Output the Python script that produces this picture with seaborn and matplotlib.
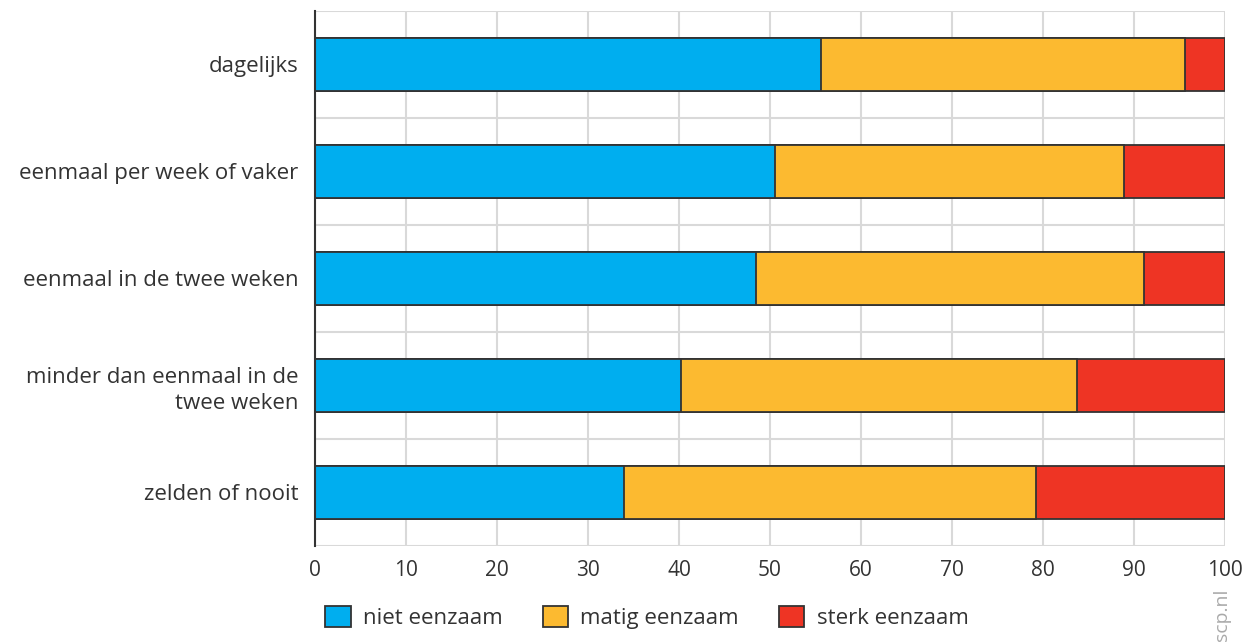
import pandas as pd
import matplotlib.pyplot as plt
import seaborn as sns
from matplotlib.patches import Patch

# categories and shares (%)
categories = ['dagelijks', 'eenmaal per week of vaker', 'eenmaal in de twee weken',
              'minder dan eenmaal in de\ntwee weken', 'zelden of nooit']
niet = [55.6, 50.5, 48.5, 40.2, 34.0]
matig = [40.0, 38.4, 42.6, 43.5, 45.2]
sterk = [4.4, 11.1, 8.9, 16.3, 20.8]
series_names = ['niet eenzaam', 'matig eenzaam', 'sterk eenzaam']
xticks = [0, 10, 20, 30, 40, 50, 60, 70, 80, 90, 100]

colors = ['#00AEEF', '#FCBA30', '#EE3424']

df = pd.DataFrame({'cat': categories, 'niet': niet, 'matig': matig, 'sterk': sterk})
df['c1'] = df['niet']
df['c2'] = df['niet'] + df['matig']
df['c3'] = df['c2'] + df['sterk']

sns.set_style('white')
plt.rcParams['font.family'] = ['Open Sans', 'DejaVu Sans']

fig = plt.figure(figsize=(12.5, 6.43), dpi=100)
ax = fig.add_axes([0.252, 0.151, 0.728, 0.832])

# stacked bars drawn as overlapping cumulative bars
for col, c in zip(['c3', 'c2', 'c1'], colors[::-1]):
    sns.barplot(data=df, x=col, y='cat', orient='h', color=c, width=0.5,
                edgecolor='#333333', linewidth=1.3, ax=ax, zorder=3, saturation=1)

ax.set_xlim(0, 100)
ax.set_ylim(len(categories) - 0.5, -0.5)
ax.set_xticks(xticks)
ax.set_xticklabels([str(t) for t in xticks], fontsize=15, color='#333333')
ax.tick_params(axis='y', labelsize=16, labelcolor='#333333', length=0, pad=12)
ax.tick_params(axis='x', length=0, pad=10)
for lab in ax.get_yticklabels():
    lab.set_horizontalalignment('right')
    lab.set_multialignment('right')
    lab.set_linespacing(1.3)
ax.set_xlabel('')
ax.set_ylabel('')

# grid
ax.set_yticks([i + 0.5 for i in range(-1, len(categories))], minor=True)
ax.grid(True, axis='x', color='#d9d9d9', linewidth=1.5, zorder=0)
ax.grid(True, axis='y', which='minor', color='#d9d9d9', linewidth=1.5, zorder=0)
ax.grid(False, axis='y', which='major')
ax.tick_params(axis='y', which='minor', length=0)
for s in ['top', 'right', 'bottom']:
    ax.spines[s].set_visible(False)
ax.spines['left'].set_color('#333333')
ax.spines['left'].set_linewidth(1.5)
ax.spines['left'].set_zorder(4)

handles = [Patch(facecolor=c, edgecolor='#333333', linewidth=1.3) for c in colors]
fig.legend(handles, series_names, loc='lower left', bbox_to_anchor=(0.244, -0.009),
           ncol=3, frameon=False, fontsize=16, handlelength=1.15, handleheight=1.1,
           columnspacing=1.8, handletextpad=0.55, labelcolor='#333333')

fig.text(0.978, 0.003, 'scp.nl', rotation=90, color='#aaaaaa', fontsize=14,
         ha='center', va='bottom')

fig.savefig('out.png', dpi=100)
